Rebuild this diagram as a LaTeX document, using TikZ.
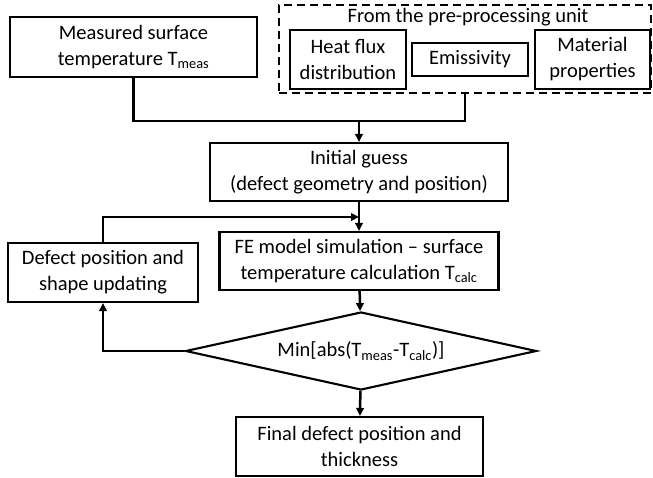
\documentclass[tikz,border=0pt]{standalone}
\usepackage{fontspec}
\setmainfont{Carlito}
\usetikzlibrary{arrows.meta,shapes.geometric}

\begin{document}
\begin{tikzpicture}[
x=1pt, y=-1pt,
box/.style={draw, line width=2.1pt, align=center, inner sep=0pt,
font=\fontsize{20.5}{26}\selectfont},
decision/.style={box, diamond, aspect=4.5},
group/.style={draw, dashed, dash pattern=on 8pt off 5pt, line width=2.2pt},
line/.style={line width=2.5pt},
arrow/.style={line, -{Triangle[length=8pt,width=7.5pt]}}
]
\useasboundingbox (0,0) rectangle (653,477);
% inputs
\node[box, minimum width=247pt, minimum height=60pt] (meas) at (133.5,47) {Measured surface\\temperature T\textsubscript{meas}};
\node[group, minimum width=372pt, minimum height=88pt] (pre) at (465,49) {};
\node[font=\fontsize{20.5}{26}\selectfont, inner sep=0pt] (pretitle) at (468,17) {From the pre-processing unit};
\node[box, minimum width=116pt, minimum height=59pt] (flux) at (348,59.5) {Heat flux\\distribution};
\node[box, minimum width=116pt, minimum height=33pt] (emis) at (470,59.5) {Emissivity};
\node[box, minimum width=115pt, minimum height=59pt] (mat) at (592.5,59.5) {Material\\properties};
% main chain
\node[box, minimum width=298pt, minimum height=58pt] (init) at (359,172) {Initial guess\\(defect geometry and position)};
\node[box, minimum width=279pt, minimum height=58pt] (fe) at (359,261) {FE model simulation -- surface\\temperature calculation T\textsubscript{calc}};
\node[decision, minimum width=351pt, minimum height=78pt] (check) at (361,351) {Min[abs(T\textsubscript{meas}-T\textsubscript{calc})]};
\node[box, minimum width=247pt, minimum height=59pt] (final) at (359.5,446.5) {Final defect position and\\thickness};
\node[box, minimum width=190pt, minimum height=59pt] (update) at (103,272.5) {Defect position and\\shape updating};
\coordinate (join) at (359,120);
\coordinate (back) at (359,217);
\draw[line] (meas.south) -- ++(0,43) -| (pre.south);
\draw[arrow] (join) -- (init);
\draw[arrow] (init) -- (fe);
\draw[arrow] (fe) -- (check);
\draw[arrow] (check) -- (final);
\draw[arrow] (check.west) -| (update.south);
\draw[arrow] (update.north) |- (back);
\end{tikzpicture}
\end{document}
